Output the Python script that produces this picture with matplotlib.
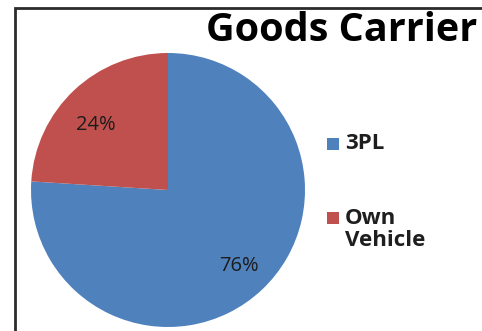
import matplotlib.pyplot as plt
from matplotlib.patches import Rectangle

categories = ['3PL', 'Own Vehicle']
shares = [76, 24]
colors = ['#4F81BD', '#C0504D']
title = 'Goods Carrier'

plt.rcParams['font.family'] = ['Open Sans', 'DejaVu Sans']

W, H = 482, 331
fig = plt.figure(figsize=(W / 100, H / 100), dpi=100)
fig.patch.set_facecolor('white')

# pie box in pixels: centre (168, 190), radius 137
cx, cy, r = 168, 190, 137
ax = fig.add_axes([(cx - r) / W, (H - cy - r) / H, 2 * r / W, 2 * r / H])
wedges, texts, autotexts = ax.pie(shares, colors=colors, startangle=90, counterclock=False,
                                  autopct='%d%%', pctdistance=0.76,
                                  wedgeprops=dict(linewidth=0),
                                  textprops=dict(fontsize=14.5, color='#1c1c1c'))
ax.set_xlim(-1, 1)
ax.set_ylim(-1, 1)
ax.set_aspect('auto')
# small slice label sits a bit further round
autotexts[1].set_position((-0.53, 0.475))

# title
fig.text(477 / W, 1 - 41 / H, title, ha='right', va='baseline',
         fontsize=28.5, fontweight='bold', color='#000000')

# legend drawn by hand
legend_rows = [(144, ['3PL']), (218, ['Own', 'Vehicle'])]
for (ymid, lines), c in zip(legend_rows, colors):
    fig.add_artist(Rectangle((327 / W, 1 - (ymid + 6) / H), 12 / W, 12 / H,
                             transform=fig.transFigure, color=c, lw=0))
    for k, line in enumerate(lines):
        fig.text(345 / W, 1 - (ymid + 23 * k) / H, line, ha='left', va='center',
                 fontsize=16, fontweight='bold', color='#1e1e1e')

# chart frame (left and top edges show)
fig.add_artist(Rectangle((15 / W, -0.2), 2.0, 1.2 - 8 / H, transform=fig.transFigure,
                         fill=False, ec='#2b2b2b', lw=2))

fig.savefig('out.png', dpi=100, facecolor='white')
